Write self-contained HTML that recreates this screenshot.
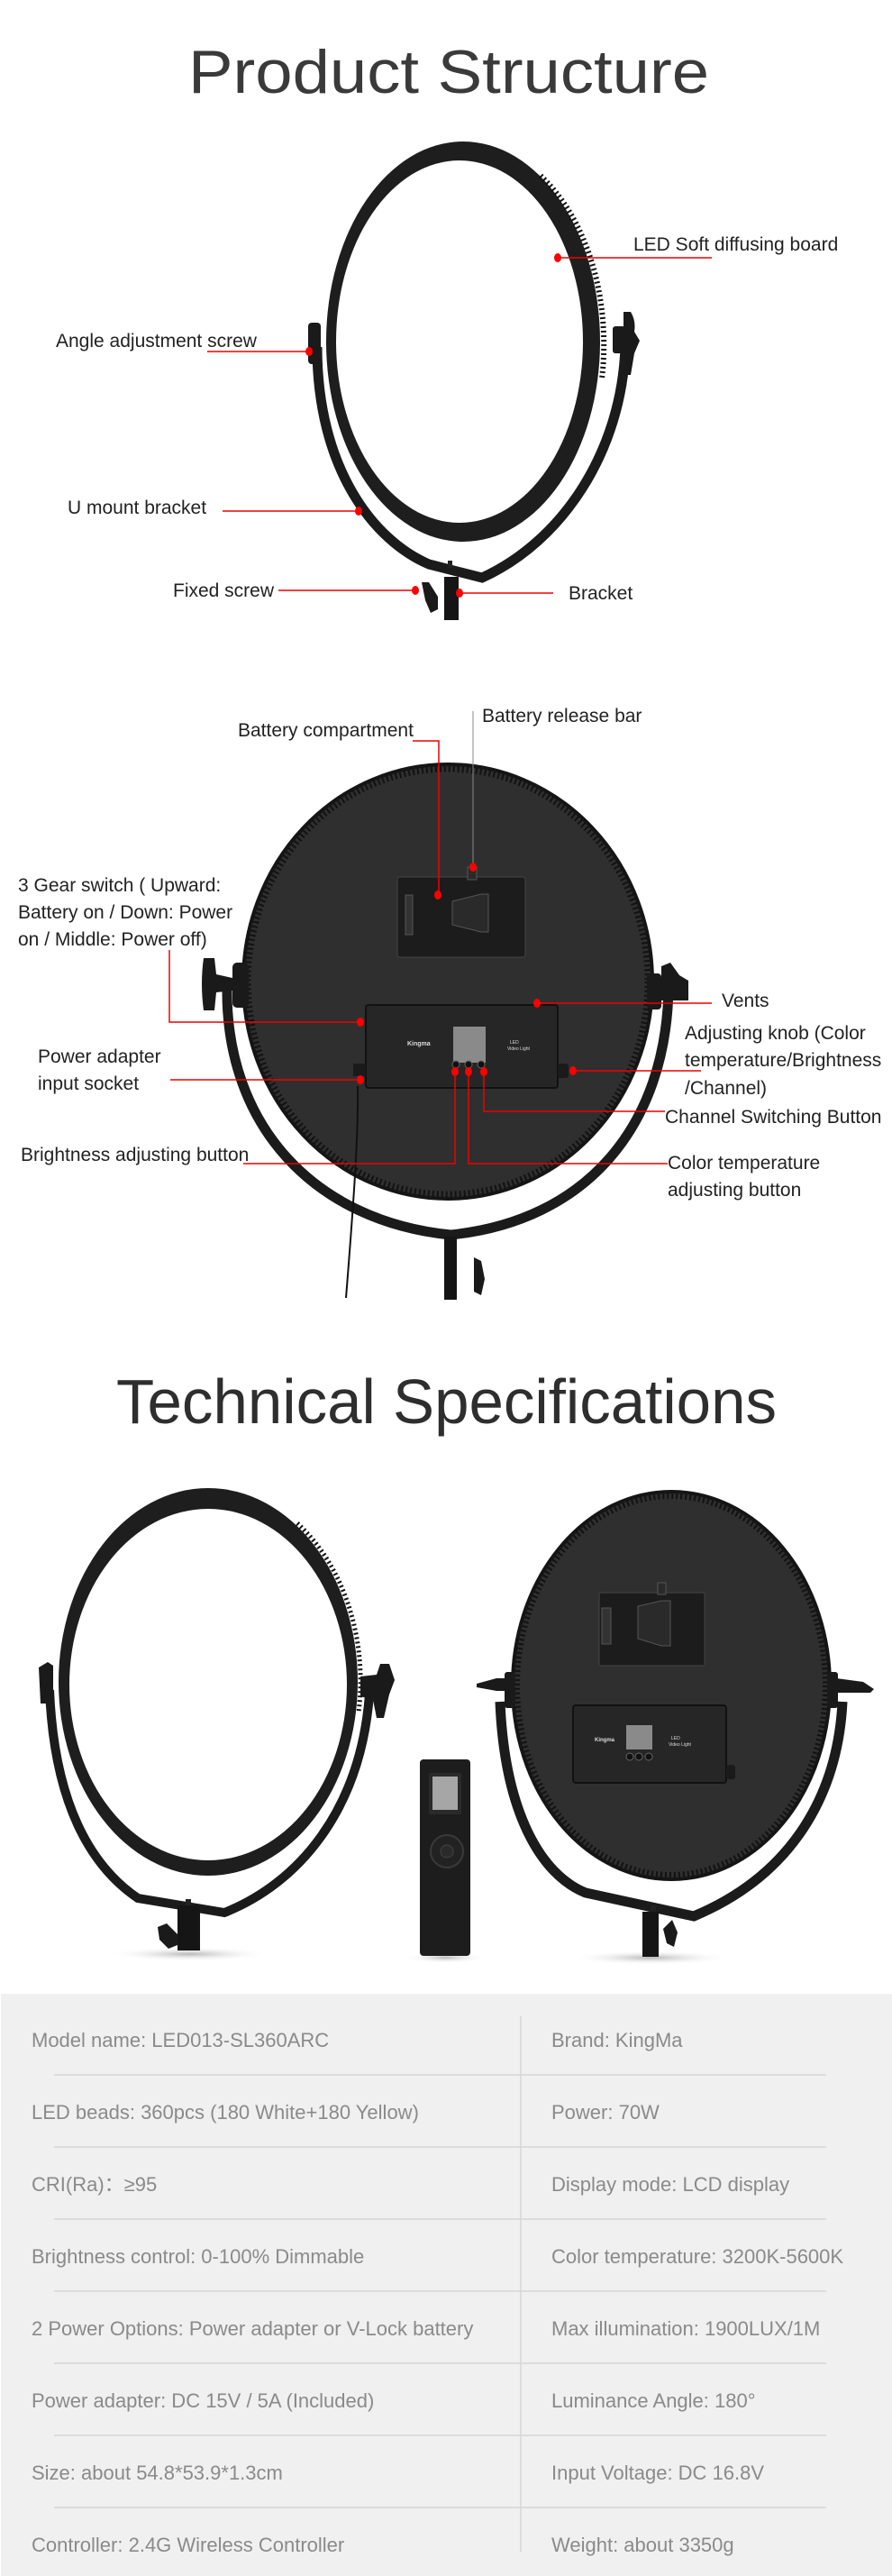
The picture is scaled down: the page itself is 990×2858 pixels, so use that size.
<!DOCTYPE html>
<html><head><meta charset="utf-8"><style>
html,body{margin:0;padding:0;background:#fff;}
svg{display:block;}
text{font-family:"Liberation Sans",Arial,sans-serif;}
</style></head><body>
<svg width="990" height="2858" viewBox="0 0 990 2858" xmlns="http://www.w3.org/2000/svg">
<defs>
<radialGradient id="sh" cx="50%" cy="50%" r="50%"><stop offset="0" stop-color="#999" stop-opacity=".7"/><stop offset="1" stop-color="#fff" stop-opacity="0"/></radialGradient>
</defs>
<rect width="990" height="2858" fill="#fff"/>

<!-- ===== Section 1 ===== -->
<text x="209" y="103" font-size="68" fill="#3a3a3a" textLength="578" lengthAdjust="spacingAndGlyphs">Product Structure</text>

<path d="M352,385 C352,520 415,600 476,626 L535,641 C625,600 690,500 694,385" fill="none" stroke="#1b1b1b" stroke-width="11"/>
<path fill="#1e1e1e" fill-rule="evenodd" d="M362,379 a152,222 0 1,0 304,0 a152,222 0 1,0 -304,0 Z M373,379 a137,201 0 1,0 274,0 a137,201 0 1,0 -274,0 Z"/>
<path d="M600,195 A152,222 0 0,1 668,420" fill="none" stroke="#111" stroke-width="6" stroke-dasharray="2,3"/>
<rect x="342" y="358" width="14" height="46" rx="4" fill="#1a1a1a"/>
<rect x="680" y="362" width="14" height="30" rx="3" fill="#1a1a1a"/>
<path d="M692,346 l8,0 q6,10 4,22 l6,10 l-6,14 l-4,24 l-8,0 Z" fill="#1a1a1a"/>
<rect x="497" y="622" width="5" height="8" fill="#222"/>
<rect x="493" y="640" width="16" height="48" fill="#151515"/>
<path d="M468,646 l8,0 l10,16 l0,14 l-8,4 l-6,-14 Z" fill="#1a1a1a"/>

<g font-size="21" fill="#222">
<text x="703" y="278">LED Soft diffusing board</text>
<text x="62" y="385">Angle adjustment screw</text>
<text x="75" y="570">U mount bracket</text>
<text x="192" y="662">Fixed screw</text>
<text x="631" y="665">Bracket</text>
</g>
<g stroke="#e00" stroke-width="1.5" fill="none">
<line x1="619" y1="286" x2="790" y2="286"/>
<line x1="230" y1="390" x2="343" y2="390"/>
<line x1="247" y1="567" x2="398" y2="567"/>
<line x1="309" y1="655" x2="461" y2="655"/>
<line x1="510" y1="658" x2="614" y2="658"/>
</g>
<g fill="#f00">
<ellipse cx="619" cy="286" rx="4" ry="5"/>
<ellipse cx="343" cy="390" rx="4" ry="5"/>
<ellipse cx="398" cy="567" rx="4" ry="5"/>
<ellipse cx="461" cy="655" rx="4" ry="5"/>
<ellipse cx="510" cy="658" rx="4" ry="5"/>
</g>

<!-- ===== Section 2 ===== -->
<path d="M252,1095 C250,1250 350,1355 500,1370 C650,1355 740,1250 742,1095" fill="none" stroke="#1b1b1b" stroke-width="11"/>
<ellipse cx="497" cy="1089" rx="227" ry="241" fill="#2f2f2f" stroke="#151515" stroke-width="4"/>
<ellipse cx="497" cy="1089" rx="222" ry="236" fill="none" stroke="#121212" stroke-width="7" stroke-dasharray="2,3"/>
<rect x="258" y="1068" width="18" height="50" rx="5" fill="#1a1a1a"/>
<path d="M226,1063 l12,0 l2,18 l18,4 l0,14 l-18,2 l-2,20 l-12,0 q-4,-30 0,-58 Z" fill="#1a1a1a"/>
<rect x="718" y="1080" width="16" height="40" rx="4" fill="#1a1a1a"/>
<path d="M734,1072 l10,-4 l10,14 l10,6 l0,22 l-30,0 Z" fill="#1a1a1a"/>
<rect x="441" y="973" width="142" height="89" rx="3" fill="#1c1c1c" stroke="#444" stroke-width="1"/>
<rect x="519" y="962" width="10" height="14" fill="#2a2a2a" stroke="#555" stroke-width="1"/>
<path d="M502,1000 l32,-8 l8,0 l0,42 l-8,0 l-32,-8 Z" fill="#2a2a2a" stroke="#555" stroke-width="1"/>
<rect x="450" y="993" width="8" height="44" fill="#333" stroke="#555" stroke-width="1"/>
<rect x="406" y="1115" width="213" height="92" rx="3" fill="#262626" stroke="#111" stroke-width="2"/>
<rect x="503" y="1139" width="36" height="40" fill="#8a8a8a"/>
<text x="452" y="1160" font-size="7" fill="#ddd" font-weight="bold">Kingma</text>
<text x="566" y="1158" font-size="5" fill="#ddd">LED</text>
<text x="563" y="1165" font-size="5" fill="#ddd">Video Light</text>
<circle cx="506" cy="1181" r="4" fill="#111" stroke="#666"/>
<circle cx="520" cy="1181" r="4" fill="#111" stroke="#666"/>
<circle cx="534" cy="1181" r="4" fill="#111" stroke="#666"/>
<rect x="392" y="1180" width="14" height="14" fill="#1a1a1a"/>
<rect x="619" y="1180" width="12" height="16" rx="3" fill="#1a1a1a"/>
<rect x="493" y="1372" width="14" height="70" fill="#151515"/>
<path d="M526,1395 l8,4 l4,20 l-4,18 l-8,-4 Z" fill="#1a1a1a"/>
<path d="M397,1205 C398,1260 392,1340 384,1440" fill="none" stroke="#111" stroke-width="2"/>

<g font-size="21" fill="#222">
<text x="264" y="817">Battery compartment</text>
<text x="535" y="801">Battery release bar</text>
<text x="20" y="989">3 Gear switch ( Upward:</text>
<text x="20" y="1019">Battery on / Down: Power</text>
<text x="20" y="1049">on / Middle: Power off)</text>
<text x="42" y="1179">Power adapter</text>
<text x="42" y="1209">input socket</text>
<text x="23" y="1288">Brightness adjusting button</text>
<text x="801" y="1117">Vents</text>
<text x="760" y="1153">Adjusting knob (Color</text>
<text x="760" y="1183">temperature/Brightness</text>
<text x="760" y="1214">/Channel)</text>
<text x="738" y="1246">Channel Switching Button</text>
<text x="741" y="1297">Color temperature</text>
<text x="741" y="1327">adjusting button</text>
</g>
<line x1="525" y1="789" x2="525" y2="962" stroke="#888" stroke-width="1"/>
<g stroke="#e00" stroke-width="1.5" fill="none">
<polyline points="458,822 487,822 487,993"/>
<polyline points="188,1054 188,1134 400,1134"/>
<line x1="189" y1="1198" x2="400" y2="1198"/>
<polyline points="270,1291 505,1291 505,1189"/>
<line x1="596" y1="1113" x2="790" y2="1113"/>
<line x1="636" y1="1188" x2="778" y2="1188"/>
<polyline points="537,1189 537,1233 738,1233"/>
<polyline points="520,1189 520,1291 741,1291"/>
</g>
<g fill="#f00">
<ellipse cx="486" cy="993" rx="4" ry="5"/>
<ellipse cx="525" cy="962" rx="4" ry="5"/>
<ellipse cx="400" cy="1134" rx="4" ry="5"/>
<ellipse cx="400" cy="1198" rx="4" ry="5"/>
<ellipse cx="505" cy="1189" rx="4" ry="5"/>
<ellipse cx="520" cy="1189" rx="4" ry="5"/>
<ellipse cx="537" cy="1189" rx="4" ry="5"/>
<ellipse cx="596" cy="1113" rx="4" ry="5"/>
<ellipse cx="636" cy="1188" rx="4" ry="5"/>
</g>

<!-- ===== Section 3 ===== -->
<text x="129" y="1579" font-size="70" fill="#2e2e2e" textLength="733" lengthAdjust="spacingAndGlyphs">Technical Specifications</text>

<ellipse cx="210" cy="2168" rx="90" ry="8" fill="url(#sh)"/>
<ellipse cx="494" cy="2172" rx="45" ry="6" fill="url(#sh)"/>
<ellipse cx="722" cy="2172" rx="90" ry="8" fill="url(#sh)"/>

<!-- left light -->
<path d="M55,1875 C60,2000 100,2070 153,2106 L249,2122 C330,2090 400,2010 410,1880" fill="none" stroke="#1b1b1b" stroke-width="10"/>
<path fill="#1e1e1e" fill-rule="evenodd" d="M65,1866 a166,215 0 1,0 332,0 a166,215 0 1,0 -332,0 Z M77,1869 a154,195 0 1,0 308,0 a154,195 0 1,0 -308,0 Z"/>
<path d="M330,1690 A166,215 0 0,1 398,1900" fill="none" stroke="#111" stroke-width="5" stroke-dasharray="2,3"/>
<path d="M43,1850 l10,-6 l6,4 l0,42 l-14,0 Z" fill="#1a1a1a"/>
<path d="M400,1860 l18,-2 l4,-12 l10,0 l6,18 l-6,16 l-6,26 l-8,0 l-4,-20 l-14,-4 Z" fill="#1a1a1a"/>
<rect x="206" y="2107" width="6" height="8" fill="#222"/>
<rect x="197" y="2114" width="25" height="50" fill="#151515"/>
<path d="M175,2138 l10,-4 l12,12 l0,12 l-10,4 l-10,-10 Z" fill="#1a1a1a"/>

<!-- remote -->
<rect x="466" y="1952" width="56" height="218" rx="4" fill="#1d1d1d"/>
<rect x="476" y="1967" width="36" height="46" rx="2" fill="#2a2a2a"/>
<rect x="480" y="1971" width="28" height="37" fill="#a6a6a6"/>
<circle cx="496" cy="2054" r="18" fill="#222" stroke="#3a3a3a" stroke-width="2"/>
<circle cx="496" cy="2054" r="7" fill="#2a2a2a" stroke="#444"/>

<!-- right light -->
<path d="M555,1888 C560,2010 600,2080 650,2100 L770,2126 C880,2080 930,1990 935,1888" fill="none" stroke="#1b1b1b" stroke-width="11"/>
<ellipse cx="745" cy="1870" rx="176" ry="215" fill="#2f2f2f" stroke="#151515" stroke-width="4"/>
<ellipse cx="745" cy="1870" rx="171" ry="210" fill="none" stroke="#121212" stroke-width="6" stroke-dasharray="2,3"/>
<path d="M529,1868 l22,-6 l12,0 l0,14 l-12,0 l-22,-4 Z" fill="#1a1a1a"/>
<rect x="560" y="1855" width="12" height="40" rx="3" fill="#1a1a1a"/>
<rect x="918" y="1855" width="12" height="40" rx="3" fill="#1a1a1a"/>
<path d="M928,1862 l30,4 l12,8 l-4,4 l-38,0 Z" fill="#1a1a1a"/>
<rect x="665" y="1767" width="117" height="81" rx="2" fill="#1c1c1c" stroke="#444"/>
<rect x="730" y="1756" width="9" height="13" fill="#2a2a2a" stroke="#555"/>
<path d="M708,1782 l26,-6 l10,0 l0,50 l-10,0 l-26,-8 Z" fill="#2a2a2a" stroke="#555"/>
<rect x="668" y="1784" width="10" height="40" fill="#333" stroke="#555"/>
<rect x="636" y="1892" width="170" height="86" rx="3" fill="#262626" stroke="#111" stroke-width="2"/>
<rect x="695" y="1914" width="29" height="27" fill="#8a8a8a"/>
<text x="660" y="1932" font-size="6" fill="#ddd" font-weight="bold">Kingma</text>
<text x="745" y="1930" font-size="5" fill="#ddd">LED</text>
<text x="742" y="1937" font-size="5" fill="#ddd">Video Light</text>
<circle cx="699" cy="1949" r="4" fill="#111" stroke="#666"/>
<circle cx="709" cy="1949" r="4" fill="#111" stroke="#666"/>
<circle cx="720" cy="1949" r="4" fill="#111" stroke="#666"/>
<rect x="806" y="1958" width="10" height="16" rx="3" fill="#1a1a1a"/>
<rect x="722" y="2114" width="6" height="8" fill="#222"/>
<rect x="713" y="2121" width="18" height="50" fill="#151515"/>
<path d="M736,2140 l10,-10 l6,14 l-4,16 l-8,-4 Z" fill="#1a1a1a"/>

<!-- table -->
<rect x="1" y="2212" width="989" height="646" fill="#f0f0f0"/>
<g stroke="#d6d6d6" stroke-width="1.5">
<line x1="60" y1="2302" x2="917" y2="2302"/>
<line x1="60" y1="2382" x2="917" y2="2382"/>
<line x1="60" y1="2462" x2="917" y2="2462"/>
<line x1="60" y1="2542" x2="917" y2="2542"/>
<line x1="60" y1="2622" x2="917" y2="2622"/>
<line x1="60" y1="2702" x2="917" y2="2702"/>
<line x1="60" y1="2782" x2="917" y2="2782"/>
<line x1="578" y1="2237" x2="578" y2="2831"/>
</g>
<g font-size="22" fill="#8a8a8a">
<text x="35" y="2271">Model name: LED013-SL360ARC</text>
<text x="612" y="2271">Brand: KingMa</text>
<text x="35" y="2351">LED beads: 360pcs (180 White+180 Yellow)</text>
<text x="612" y="2351">Power: 70W</text>
<text x="35" y="2431">CRI(Ra)：≥95</text>
<text x="612" y="2431">Display mode: LCD display</text>
<text x="35" y="2511">Brightness control: 0-100% Dimmable</text>
<text x="612" y="2511">Color temperature: 3200K-5600K</text>
<text x="35" y="2591">2 Power Options: Power adapter or V-Lock battery</text>
<text x="612" y="2591">Max illumination: 1900LUX/1M</text>
<text x="35" y="2671">Power adapter: DC 15V / 5A (Included)</text>
<text x="612" y="2671">Luminance Angle: 180°</text>
<text x="35" y="2751">Size: about 54.8*53.9*1.3cm</text>
<text x="612" y="2751">Input Voltage: DC 16.8V</text>
<text x="35" y="2831">Controller: 2.4G Wireless Controller</text>
<text x="612" y="2831">Weight: about 3350g</text>
</g>
</svg>
</body></html>
